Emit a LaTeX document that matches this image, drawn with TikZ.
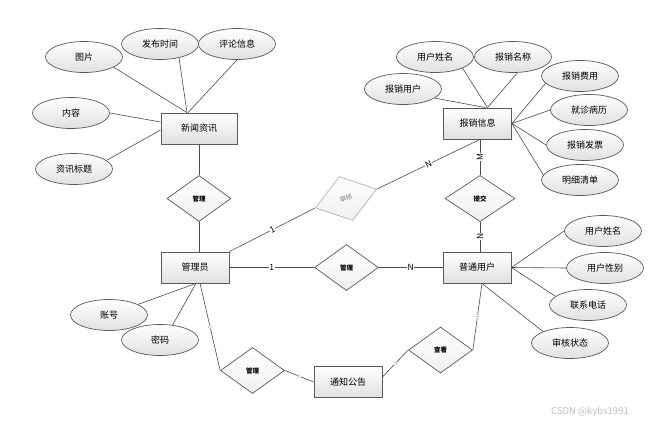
\documentclass[tikz,border=0pt]{standalone}
\usepackage{fontspec}
\setmainfont{Noto Sans CJK SC}
\usetikzlibrary{shapes.geometric,calc}
\definecolor{edgec}{gray}{0.35}
\definecolor{linec}{gray}{0.3}
\definecolor{shadec}{gray}{0.88}
\begin{document}
\begin{tikzpicture}[x=1pt,y=-1pt,
  attr/.style={ellipse,draw=edgec,line width=0.7pt,top color=white,bottom color=shadec,
    minimum width=77pt,minimum height=31pt,inner sep=0pt,font=\fontsize{9}{9}\selectfont},
  ent/.style={rectangle,draw=edgec,line width=0.8pt,top color=white,bottom color=shadec,
    minimum width=68pt,minimum height=31pt,inner sep=0pt,font=\fontsize{9}{9}\selectfont},
  rel/.style={diamond,draw=edgec,line width=0.7pt,top color=white,bottom color=black!6,
    minimum width=64pt,minimum height=46pt,inner sep=0pt,font=\fontsize{6.5}{6.5}\selectfont\bfseries},
  conn/.style={draw=linec,line width=0.6pt},
  card/.style={fill=white,inner sep=0.6pt,font=\fontsize{8.5}{8.5}\selectfont},
  tinycard/.style={fill=white,inner sep=0.3pt,font=\fontsize{4.5}{4.5}\selectfont,text=gray,sloped}]
\useasboundingbox[fill=white] (0,0) rectangle (651,426);

% entities
\node[ent,minimum width=76pt] (xw) at (199,128.5) {新闻资讯};
\node[ent] (gly) at (195,267.5) {管理员};
\node[ent] (bx) at (477.5,123.5) {报销信息};
\node[ent] (pt) at (477,267.5) {普通用户};
\node[ent] (tz) at (348,382) {通知公告};

% attributes
\node[attr] (tp) at (84,57) {图片};
\node[attr] (fb) at (160,44) {发布时间};
\node[attr] (pl) at (237,44) {评论信息};
\node[attr] (nr) at (71,113) {内容};
\node[attr] (zx) at (74,169) {资讯标题};
\node[attr] (zh) at (109,315) {账号};
\node[attr] (mm) at (160,340) {密码};
\node[attr] (yx) at (435,57) {用户姓名};
\node[attr] (mc) at (513,57) {报销名称};
\node[attr] (bu) at (403,89) {报销用户};
\node[attr] (fy) at (580,76) {报销费用};
\node[attr] (bl) at (589,110) {就诊病历};
\node[attr] (fp) at (585,145) {报销发票};
\node[attr] (qd) at (580,180) {明细清单};
\node[attr] (ux) at (603,231) {用户姓名};
\node[attr] (ub) at (605,268) {用户性别};
\node[attr] (dh) at (588,305) {联系电话};
\node[attr] (zt) at (570,343) {审核状态};

% relations
\node[rel] (g1) at (199,198.5) {管理};
\node[rel,rotate=17,draw=black!30,text=gray,font=\fontsize{6.5}{6.5}\selectfont] (sh) at (346,198.5) {审核};
\node[rel,minimum width=70pt] (tj) at (480,198.5) {提交};
\node[rel] (g2) at (346.5,267.5) {管理};
\node[rel] (g3) at (252.5,370.5) {管理};
\node[rel] (ck) at (440.5,350) {查看};

% attribute lines
\draw[conn] (tp.-19) -- ([xshift=-12pt]xw.north);
\draw[conn] (fb.-36) -- ([xshift=-12pt]xw.north);
\draw[conn] (pl.south) -- ([xshift=-11pt]xw.north);
\draw[conn] (nr.east) -- ([yshift=6.5pt]xw.west);
\draw[conn] (zx.15) -- ([yshift=-1.5pt]xw.west);
\draw[conn] (zh.20) -- ([xshift=1pt]gly.south);
\draw[conn] (mm.50) -- ([xshift=1pt]gly.south);
\draw[conn] (yx.-22) -- ([xshift=10pt]bx.north);
\draw[conn] (mc.-74) -- ([xshift=10pt]bx.north);
\draw[conn] (bu.-16) -- ([xshift=8pt]bx.north);
\draw[conn] (fy.192) -- (bx.east);
\draw[conn] (bl.west) -- (bx.east);
\draw[conn] (fp.west) -- (bx.east);
\draw[conn] (qd.172) -- (bx.east);
\draw[conn] (pt.east) -- (ux.west);
\draw[conn] (pt.east) -- (ub.west);
\draw[conn] (pt.east) -- (dh.165);
\draw[conn] ([xshift=5pt]pt.south) -- (zt.157);

% relationship lines
\draw[conn] (xw.south) -- (g1.north);
\draw[conn] (g1.south) -- (g1.south |- gly.north);
\draw[conn] (gly.north east) -- node[card,sloped]{1} (sh.west);
\draw[conn] (sh.east) -- node[card,sloped]{N} (bx.south -| tj.north);
\draw[conn] (gly.east) -- node[card]{1} (g2.west);
\draw[conn] (g2.east) -- node[card]{N} (pt.west);
\draw[conn] (bx.south -| tj.north) -- node[card,rotate=90]{M} (tj.north);
\draw[conn] (tj.south) -- node[card,rotate=90]{N} (tj.south |- pt.north);
\draw[conn] ([xshift=5pt]gly.south) -- node[tinycard]{1} (g3.west);
\draw[conn] (g3.east) -- node[tinycard]{1} (tz.west);
\draw[conn] ([yshift=5pt]tz.east) -- node[tinycard]{1} (ck.west);
\draw[conn] (ck.east) -- node[tinycard]{1} ([xshift=5pt]pt.south);

% watermark
\node[text=black!25,font=\fontsize{9.5}{9.5}\selectfont] (wm) at (590,412) {CSDN @kybs1991};
\end{tikzpicture}
\end{document}
